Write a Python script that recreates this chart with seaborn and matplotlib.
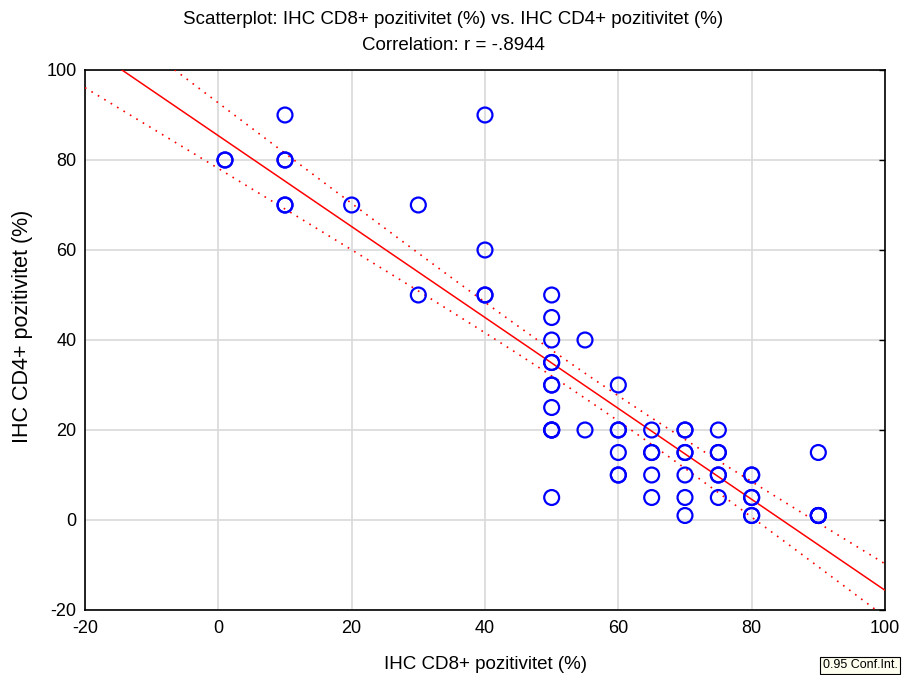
import numpy as np
import pandas as pd
import matplotlib
matplotlib.use("Agg")
import matplotlib.pyplot as plt
import seaborn as sns

cd8 = [1, 1,
       10, 10, 10, 10, 10,
       20,
       30, 30,
       40, 40, 40, 40,
       50, 50, 50, 50, 50, 50, 50, 50, 50, 50, 50, 50,
       55, 55,
       60, 60, 60, 60, 60, 60,
       65, 65, 65, 65, 65,
       70, 70, 70, 70, 70, 70, 70,
       75, 75, 75, 75, 75, 75,
       80, 80, 80, 80, 80, 80,
       90, 90, 90, 90, 90]
cd4 = [80, 80,
       90, 80, 80, 70, 70,
       70,
       70, 50,
       90, 60, 50, 50,
       50, 45, 40, 35, 35, 30, 30, 25, 20, 20, 20, 5,
       40, 20,
       30, 20, 20, 15, 10, 10,
       20, 15, 15, 10, 5,
       20, 20, 15, 15, 10, 5, 1,
       20, 15, 15, 10, 10, 5,
       10, 10, 5, 5, 1, 1,
       15, 1, 1, 1, 1]

title_lines = ["Scatterplot: IHC CD8+ pozitivitet (%) vs. IHC CD4+ pozitivitet (%)",
               "Correlation: r = -.8944"]
xlabel = "IHC CD8+ pozitivitet (%)"
ylabel = "IHC CD4+ pozitivitet (%)"
ticks = [-20, 0, 20, 40, 60, 80, 100]
conf_label = "0.95 Conf.Int."

df = pd.DataFrame({"x": cd8, "y": cd4})

sns.set_style("white")
plt.rcParams["font.family"] = ["Liberation Sans", "DejaVu Sans"]
plt.rcParams["axes.unicode_minus"] = False
plt.rcParams["text.color"] = "black"
plt.rcParams["axes.labelcolor"] = "black"
plt.rcParams["xtick.color"] = "black"
plt.rcParams["ytick.color"] = "black"

fig = plt.figure(figsize=(9.06, 6.75), dpi=100)
ax = fig.add_axes([85 / 906, 1 - 610 / 675, 800 / 906, 540 / 675])

# regression + 95% CI of the mean
x = np.array(cd8, float)
y = np.array(cd4, float)
n = len(x)
b, a = np.polyfit(x, y, 1)
resid = y - (a + b * x)
s = np.sqrt(np.sum(resid ** 2) / (n - 2))
xm = x.mean()
sxx = np.sum((x - xm) ** 2)
t = 2.0
xs = np.linspace(-20, 100, 300)
yfit = a + b * xs
se = s * np.sqrt(1 / n + (xs - xm) ** 2 / sxx)
lines = pd.DataFrame({"x": xs, "fit": yfit, "lo": yfit - t * se, "hi": yfit + t * se})

ax.grid(True, color="#d9d9d9", linewidth=1.2)
ax.set_axisbelow(True)

sns.lineplot(data=lines, x="x", y="fit", ax=ax, color="#ff0000", linewidth=1.1, zorder=3)
sns.lineplot(data=lines, x="x", y="lo", ax=ax, color="#ff0000", linewidth=1.2,
             linestyle=(0, (1, 3.5)), zorder=3)
sns.lineplot(data=lines, x="x", y="hi", ax=ax, color="#ff0000", linewidth=1.2,
             linestyle=(0, (1, 3.5)), zorder=3)

sns.scatterplot(data=df, x="x", y="y", ax=ax, marker="o", s=115,
                facecolor="none", edgecolor="#0000ff", linewidth=1.6, zorder=4)

ax.set_xlim(-20, 100)
ax.set_ylim(-20, 100)
ax.set_xticks(ticks)
ax.set_yticks(ticks)
ax.tick_params(axis="both", labelsize=13, direction="in", length=4, width=1,
               colors="black", labelcolor="black")
ax.tick_params(axis="x", pad=7)
ax.tick_params(axis="y", pad=6)
ax.tick_params(right=True, which="both")
for sp in ax.spines.values():
    sp.set_visible(True)
    sp.set_color("black")
    sp.set_linewidth(1.2)

ax.set_xlabel(xlabel, fontsize=13.5, labelpad=14, color="black")
ax.set_ylabel(ylabel, fontsize=15.5, labelpad=10, color="black")
ax.yaxis.set_label_coords(-0.065, 0.525)

fig.text(0.5, 1 - 20 / 675, title_lines[0], ha="center", va="center", fontsize=13.5, color="black")
fig.text(0.5, 1 - 45 / 675, title_lines[1], ha="center", va="center", fontsize=13.5, color="black")

fig.text(860 / 906, 1 - 665 / 675, conf_label, ha="center", va="center", fontsize=9, color="black",
         bbox=dict(boxstyle="square,pad=0.2", facecolor="#fffff0", edgecolor="black", linewidth=0.8))

fig.savefig("out.png", dpi=100)
